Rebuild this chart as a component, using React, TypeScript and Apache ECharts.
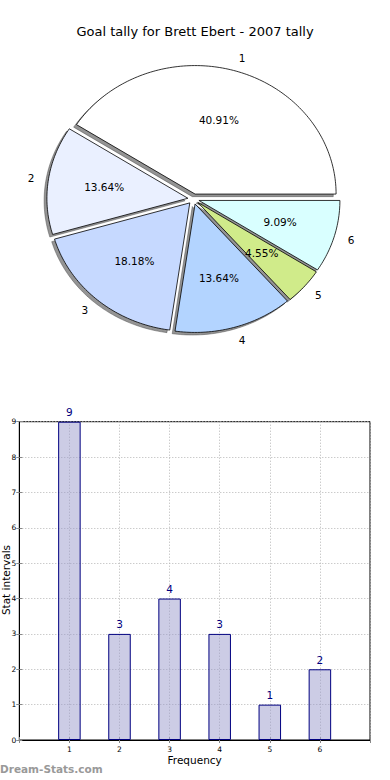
import React, { useEffect, useRef } from "react";
import * as echarts from "echarts";

const categories = ["1", "2", "3", "4", "5", "6"];
const goals = [9, 3, 4, 3, 1, 2];
const sliceColors = ["#ffffff", "#eaf0ff", "#c6d9ff", "#b3d4ff", "#d0eb8a", "#d9ffff"];
const barPositions = [1, 2, 3, 4, 5, 6];

const FONT = "DejaVu Sans";
const CX = 193.5;
const CY = 199;
const RX = 141;
const RY = 128.5;
const EXPLODE = 0.04;
const LABEL_DIST = 1.1;
const PCT_DIST = 0.6;

function renderSlice(params: any, api: any) {
  const i = params.dataIndex;
  const total = goals.reduce((a, b) => a + b, 0);
  const before = goals.slice(0, i).reduce((a, b) => a + b, 0);
  const v = api.value(0);
  const a0 = (before / total) * Math.PI * 2;
  const a1 = ((before + v) / total) * Math.PI * 2;
  const am = (a0 + a1) / 2;
  const ox = CX + EXPLODE * RX * Math.cos(am);
  const oy = CY - EXPLODE * RY * Math.sin(am);
  const pts: number[][] = [[ox, oy]];
  const n = Math.max(8, Math.ceil((a1 - a0) / 0.02));
  for (let k = 0; k <= n; k++) {
    const t = a0 + ((a1 - a0) * k) / n;
    pts.push([ox + RX * Math.cos(t), oy - RY * Math.sin(t)]);
  }
  const sdx = -0.02 * RX;
  const sdy = 0.02 * RY;
  const shadowPts = pts.map((p) => [p[0] + sdx, p[1] + sdy]);
  const lx = ox + LABEL_DIST * RX * Math.cos(am);
  const ly = oy - LABEL_DIST * RY * Math.sin(am);
  const px = ox + PCT_DIST * RX * Math.cos(am);
  const py = oy - PCT_DIST * RY * Math.sin(am);
  const pct = ((v / total) * 100).toFixed(2) + "%";
  return {
    type: "group",
    children: [
      {
        type: "polygon",
        z2: 0,
        shape: { points: shadowPts },
        style: { fill: "rgba(60,60,60,0.55)", stroke: "rgba(60,60,60,0.7)", lineWidth: 0.6 },
      },
      {
        type: "polygon",
        z2: 10,
        shape: { points: pts },
        style: { fill: sliceColors[i], stroke: "#000000", lineWidth: 0.8 },
      },
      {
        type: "text",
        z2: 20,
        style: {
          text: categories[i],
          x: lx,
          y: ly,
          align: Math.cos(am) > 0 ? "left" : "right",
          verticalAlign: "middle",
          fill: "#000000",
          font: `10.5px "${FONT}"`,
        },
      },
      {
        type: "text",
        z2: 20,
        style: {
          text: pct,
          x: px,
          y: py,
          align: "center",
          verticalAlign: "middle",
          fill: "#000000",
          font: `10.5px "${FONT}"`,
        },
      },
    ],
  };
}

export default function App() {
  const ref = useRef<HTMLDivElement>(null);
  useEffect(() => {
    if (!ref.current) return;
    const chart = echarts.init(ref.current, undefined, { renderer: "svg" });
    const gridLine = { show: true, lineStyle: { color: "#b5b5b5", type: [1, 2] as any, width: 1 } };
    chart.setOption({
      animation: false,
      backgroundColor: "#ffffff",
      textStyle: { fontFamily: FONT },
      title: {
        text: "Goal tally for Brett Ebert - 2007 tally",
        left: "center",
        top: 20,
        textStyle: { fontFamily: FONT, fontSize: 13, fontWeight: "normal", color: "#000000" },
      },
      grid: {
        left: 19.3,
        right: 20,
        top: 421.7,
        bottom: 40,
        containLabel: false,
        outerBoundsMode: "none",
        show: true,
        borderColor: "#000000",
        borderWidth: 1,
        backgroundColor: "transparent",
      },
      xAxis: [
        {
          type: "value",
          min: 0,
          max: 7,
          interval: 1,
          name: "Frequency",
          nameLocation: "middle",
          nameGap: 14,
          nameTextStyle: { fontFamily: FONT, fontSize: 10.5, color: "#000000" },
          axisLine: { show: true, lineStyle: { color: "#000000" } },
          axisTick: { show: true, inside: true, length: 3, lineStyle: { color: "#888888" } },
          axisLabel: {
            fontFamily: FONT,
            fontSize: 7.5,
            color: "#000000",
            margin: 5,
            formatter: (v: number) => (barPositions.includes(v) ? categories[barPositions.indexOf(v)] : ""),
          },
          splitLine: gridLine,
        },
        {
          type: "value",
          position: "top",
          min: 0,
          max: 7,
          interval: 1,
          axisLine: { show: true, lineStyle: { color: "#000000" } },
          axisTick: { show: true, inside: true, length: 3, lineStyle: { color: "#888888" } },
          axisLabel: { show: false },
          splitLine: { show: false },
        },
      ],
      yAxis: [
        {
          type: "value",
          min: 0,
          max: 9,
          interval: 1,
          axisLine: { show: true, lineStyle: { color: "#000000" } },
          axisTick: { show: true, inside: true, length: 3, lineStyle: { color: "#888888" } },
          axisLabel: { fontFamily: FONT, fontSize: 7.5, color: "#000000", margin: 3 },
          splitLine: gridLine,
        },
        {
          type: "value",
          position: "right",
          min: 0,
          max: 9,
          interval: 1,
          axisLine: { show: true, lineStyle: { color: "#000000" } },
          axisTick: { show: true, inside: true, length: 3, lineStyle: { color: "#888888" } },
          axisLabel: { show: false },
          splitLine: { show: false },
        },
      ],
      graphic: [
        {
          type: "text",
          x: 6,
          y: 580,
          rotation: Math.PI / 2,
          style: {
            text: "Stat intervals",
            x: 0,
            y: 0,
            align: "center",
            verticalAlign: "middle",
            fill: "#000000",
            font: `10.5px "${FONT}"`,
          },
        },
        {
          type: "text",
          left: 0,
          top: 763,
          style: {
            text: "Dream-Stats.com",
            fill: "#999999",
            font: `bold 10.5px "${FONT}"`,
          },
        },
      ],
      series: [
        {
          type: "custom",
          coordinateSystem: "none",
          renderItem: renderSlice,
          data: goals,
          silent: true,
        },
        {
          type: "bar",
          xAxisIndex: 0,
          yAxisIndex: 0,
          barWidth: 22.5,
          data: barPositions.map((x, i) => [x, goals[i]]),
          itemStyle: { color: "rgba(153,153,204,0.5)", borderColor: "#000080", borderWidth: 1 },
          label: {
            show: true,
            position: "top",
            distance: 4,
            color: "#000080",
            fontFamily: FONT,
            fontSize: 10.5,
            formatter: (p: any) => String(p.value[1]),
          },
        },
      ],
    });
    return () => chart.dispose();
  }, []);
  return (
    <div
      ref={ref}
      style={{ position: "fixed", left: 0, top: 0, width: 390, height: 780, background: "#fff" }}
    />
  );
}
